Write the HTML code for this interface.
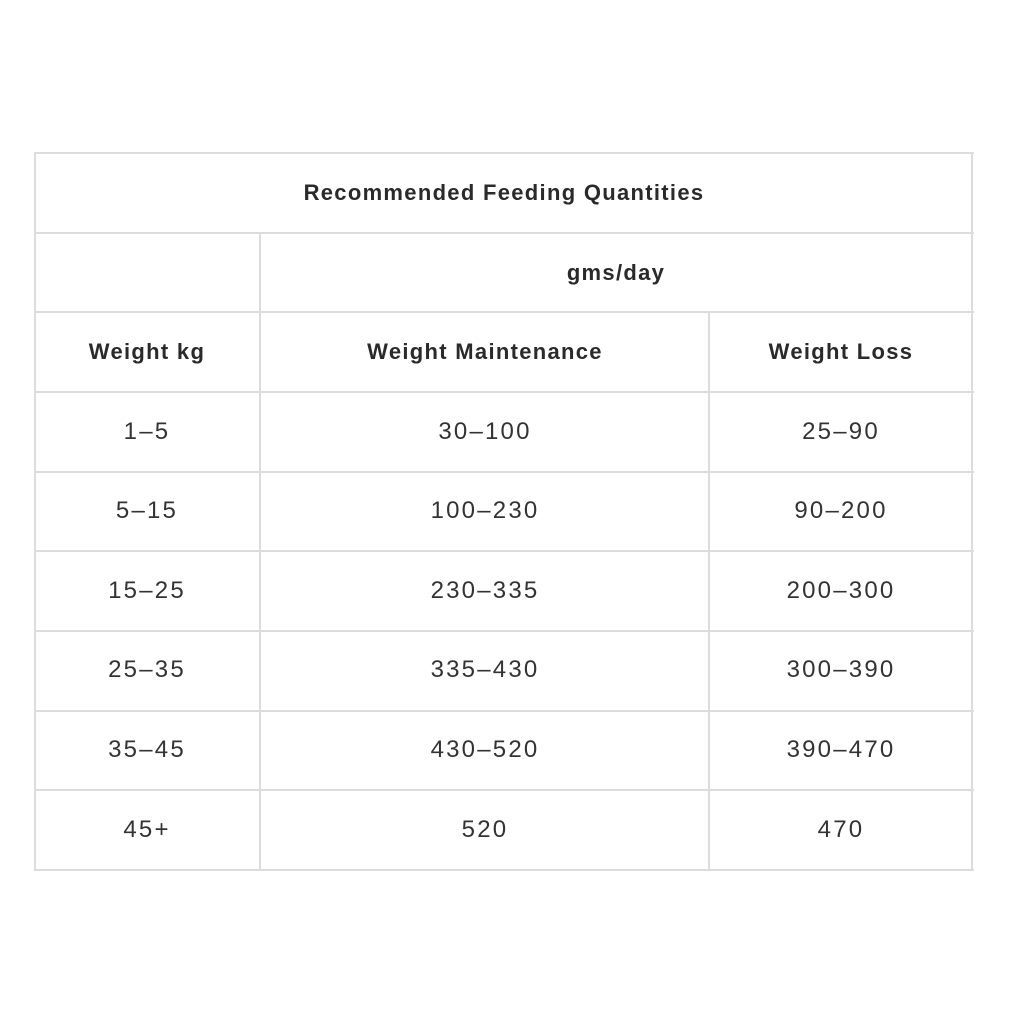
<!DOCTYPE html>
<html><head><style>
body{margin:0;width:1024px;height:1024px;background:#fff;position:relative;font-family:"Liberation Sans",sans-serif;}
.h,.v{position:absolute;background:#dcdcdc;}
.h{height:2px;}
.v{width:2px;}
.t{position:absolute;transform:translate(-50%,-50%);white-space:nowrap;color:#333;font-size:24px;letter-spacing:2.2px;}
.b{font-weight:bold;color:#2a2a2a;font-size:22px;letter-spacing:1.3px;}
</style></head><body>
<div class="h" style="left:34px;width:940px;top:152px"></div>
<div class="h" style="left:34px;width:940px;top:232px"></div>
<div class="h" style="left:34px;width:940px;top:311px"></div>
<div class="h" style="left:34px;width:940px;top:391px"></div>
<div class="h" style="left:34px;width:940px;top:471px"></div>
<div class="h" style="left:34px;width:940px;top:550px"></div>
<div class="h" style="left:34px;width:940px;top:630px"></div>
<div class="h" style="left:34px;width:940px;top:710px"></div>
<div class="h" style="left:34px;width:940px;top:789px"></div>
<div class="h" style="left:34px;width:940px;top:869px"></div>
<div class="v" style="left:34px;top:152px;height:719px"></div>
<div class="v" style="left:971px;top:152px;height:719px"></div>
<div class="v" style="left:259px;top:232px;height:639px"></div>
<div class="v" style="left:708px;top:311px;height:560px"></div>

<div class="t b" style="left:504px;top:193px">Recommended Feeding Quantities</div>
<div class="t b" style="left:616px;top:273px">gms/day</div>
<div class="t b" style="left:147px;top:352px">Weight kg</div>
<div class="t b" style="left:485px;top:352px">Weight Maintenance</div>
<div class="t b" style="left:841px;top:352px">Weight Loss</div>

<div class="t" style="left:147px;top:432px">1–5</div>
<div class="t" style="left:485px;top:432px">30–100</div>
<div class="t" style="left:841px;top:432px">25–90</div>
<div class="t" style="left:147px;top:511px">5–15</div>
<div class="t" style="left:485px;top:511px">100–230</div>
<div class="t" style="left:841px;top:511px">90–200</div>
<div class="t" style="left:147px;top:591px">15–25</div>
<div class="t" style="left:485px;top:591px">230–335</div>
<div class="t" style="left:841px;top:591px">200–300</div>
<div class="t" style="left:147px;top:670px">25–35</div>
<div class="t" style="left:485px;top:670px">335–430</div>
<div class="t" style="left:841px;top:670px">300–390</div>
<div class="t" style="left:147px;top:750px">35–45</div>
<div class="t" style="left:485px;top:750px">430–520</div>
<div class="t" style="left:841px;top:750px">390–470</div>
<div class="t" style="left:147px;top:830px">45+</div>
<div class="t" style="left:485px;top:830px">520</div>
<div class="t" style="left:841px;top:830px">470</div>
</body></html>
